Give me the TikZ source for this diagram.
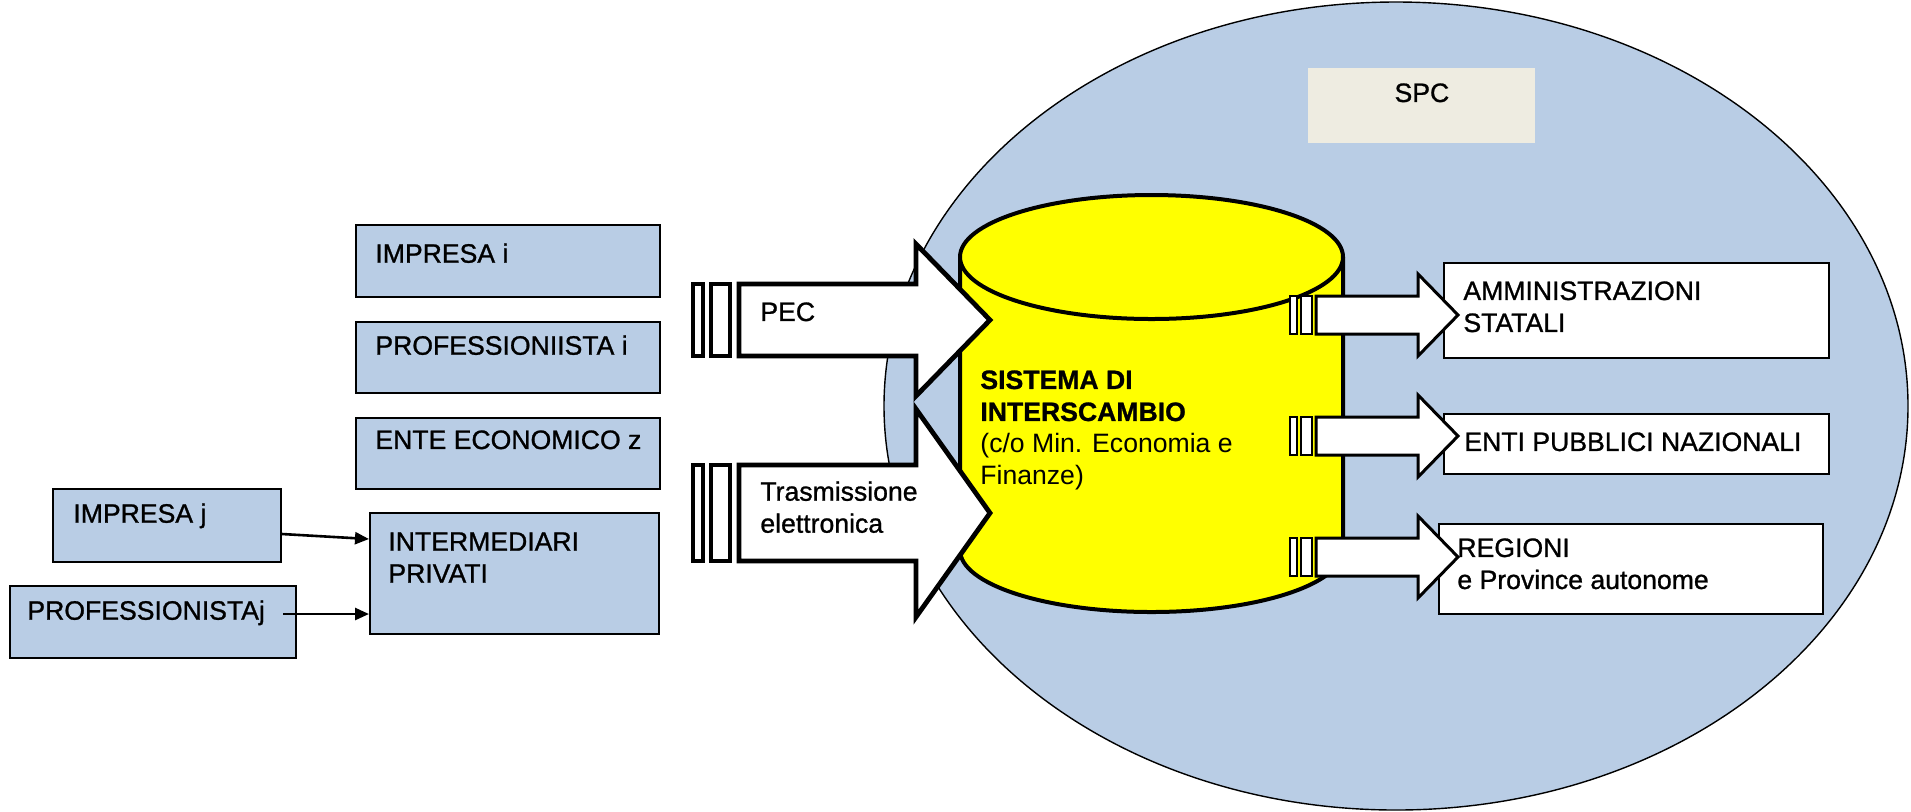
\documentclass[tikz,border=0pt]{standalone}
\usepackage{fontspec}
\setmainfont{Liberation Sans}
\newfontfamily\boxfont[FakeBold=1]{Liberation Sans}
\usetikzlibrary{arrows.meta,positioning}

\definecolor{spcblue}{HTML}{B9CDE5}
\definecolor{spcbeige}{HTML}{EEECE1}
\definecolor{sdiyellow}{HTML}{FFFF00}

\tikzset{
  bluebox/.style={draw, fill=spcblue, line width=1pt, anchor=north west, inner sep=0pt},
  whitebox/.style={draw, fill=white, line width=1pt, anchor=north west, inner sep=0pt},
  txt/.style={font=\boxfont\fontsize{13.3pt}{16pt}\selectfont, inner sep=0pt, anchor=north west, align=left},
  fatarrow/.style={draw, fill=white, line width=2.4pt},
  thinarrow/.style={draw, fill=white, line width=1.5pt},
  feed/.style={line width=1.3pt, -{Triangle[length=7pt,width=6pt]}},
}

\begin{document}
\begin{tikzpicture}[x=0.5pt, y=-0.5pt]
\path[use as bounding box, fill=white] (0,0) rectangle (1911,811);

% SPC
\draw[fill=spcblue, line width=0.7pt] (1396,406) ellipse [x radius=512, y radius=404];
\node[fill=spcbeige, anchor=north west, inner sep=0pt,
  minimum width=113.5pt, minimum height=37.5pt] (spc) at (1308,68) {};

% soggetti
\node[bluebox, minimum width=152pt, minimum height=36pt] (impi) at (355,224) {};
\node[bluebox, minimum width=152pt, minimum height=35.5pt] (profi) at (355,321) {};
\node[bluebox, minimum width=152pt, minimum height=35.5pt] (ente) at (355,417) {};
\node[bluebox, minimum width=144.5pt, minimum height=60.5pt] (intp) at (369,512) {};
\node[bluebox, minimum width=114pt, minimum height=36.5pt] (impj) at (52,488) {};
\node[bluebox, minimum width=143pt, minimum height=36pt] (profj) at (9,585) {};

\draw[feed] ([yshift=-4.25pt]impj.east) -- ([yshift=17.25pt]intp.west);
\draw[feed] ([shift={(-7pt,4pt)}]profj.east) -- ([yshift=-20.25pt]intp.west);

% sistema di interscambio
\draw[fill=sdiyellow, line width=2pt] (960,257) -- (960,550)
  arc[start angle=180, end angle=0, x radius=191.5, y radius=62] -- (1343,257);
\draw[fill=sdiyellow, line width=2pt] (1151.5,257) ellipse [x radius=191.5, y radius=62];

% destinatari
\node[whitebox, minimum width=192.5pt, minimum height=47.5pt] (amm) at (1443,262) {};
\node[whitebox, minimum width=192.5pt, minimum height=30pt] (enti) at (1443,413) {};
\node[whitebox, minimum width=192pt, minimum height=45pt] (reg) at (1438,523) {};

% canali in ingresso
\foreach \yc/\hb/\hh in {320/36/76, 513/48/104} {
  \draw[fatarrow] (693,\yc-\hb) rectangle (703,\yc+\hb);
  \draw[fatarrow] (711,\yc-\hb) rectangle (730,\yc+\hb);
  \draw[fatarrow] (739,\yc-\hb) -- (916,\yc-\hb) -- (916,\yc-\hh) -- (990,\yc)
    -- (916,\yc+\hh) -- (916,\yc+\hb) -- (739,\yc+\hb) -- cycle;
}

% canali in uscita
\foreach \yc in {315,436,557} {
  \draw[thinarrow, line width=1.2pt] (1290,\yc-19) rectangle (1297,\yc+19);
  \draw[thinarrow, line width=1.2pt] (1301,\yc-19) rectangle (1312,\yc+19);
  \draw[thinarrow] (1316,\yc-19) -- (1418,\yc-19) -- (1418,\yc-41) -- (1458,\yc)
    -- (1418,\yc+41) -- (1418,\yc+19) -- (1316,\yc+19) -- cycle;
}

% testi
\node[txt, anchor=north] (t-spc) at ([yshift=-7.5pt]spc.north) {SPC};
\node[txt] (t-impi) at ([shift={(10pt,-9.5pt)}]impi.north west) {IMPRESA i};
\node[txt] (t-profi) at ([shift={(10pt,-7pt)}]profi.north west) {PROFESSIONIISTA i};
\node[txt] (t-ente) at ([shift={(10pt,-6.5pt)}]ente.north west) {ENTE ECONOMICO z};
\node[txt] (t-intp) at ([shift={(9.5pt,-10pt)}]intp.north west) {INTERMEDIARI\\PRIVATI};
\node[txt] (t-impj) at ([shift={(10.5pt,-7.5pt)}]impj.north west) {IMPRESA j};
\node[txt] (t-profj) at ([shift={(9pt,-7.5pt)}]profj.north west) {PROFESSIONISTAj};
\node[txt] (t-pec) at (760,302) {PEC};
\node[txt] (t-tra) at (760,481) {Trasmissione\\elettronica};
\node[txt] (sdi) at (980,370) {\textbf{SISTEMA DI}\\\textbf{INTERSCAMBIO}\\
  \rmfamily(c/o Min. Economia e\\\rmfamily Finanze)};
\node[txt] (t-amm) at ([shift={(10pt,-9.5pt)}]amm.north west) {AMMINISTRAZIONI\\STATALI};
\node[txt] (t-enti) at ([shift={(10.5pt,-9.5pt)}]enti.north west) {ENTI PUBBLICI NAZIONALI};
\node[txt] (t-reg) at ([shift={(9.5pt,-7.5pt)}]reg.north west) {REGIONI\\e Province autonome};
\end{tikzpicture}
\end{document}
